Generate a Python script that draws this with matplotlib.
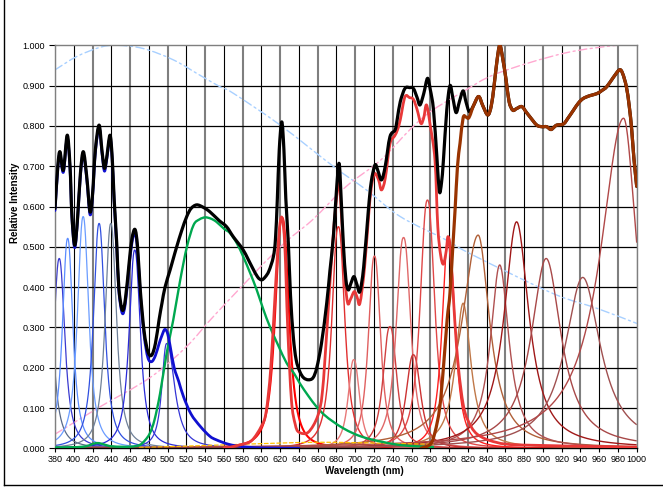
import numpy as np
import matplotlib
matplotlib.use('Agg')
import matplotlib.pyplot as plt
from matplotlib.lines import Line2D
from matplotlib.path import Path
from matplotlib.patches import PathPatch

plt.rcParams['font.family'] = ['Liberation Sans', 'DejaVu Sans']

# ---------------- data ----------------
total_wl = [380, 383, 385.3, 388.9, 393, 396, 398, 401, 404, 407, 410.2, 414, 417.3, 420, 423, 427, 430,
            432.6, 435, 438.6, 441, 443, 445.8, 448, 451.7, 455, 459, 462, 465.3, 468, 471, 475, 479, 483,
            487, 491, 494, 497.3, 502.6, 506, 509.7, 515, 520.4, 525, 531, 538, 545, 555, 562.8, 570, 580.6,
            590, 596, 600.2, 604, 608, 612.7, 615, 617, 619, 621.7, 624, 626, 628.7, 631, 634, 637, 641, 645,
            650, 655, 659, 664, 669.6, 673, 676.7, 680, 682.8, 685, 687.3, 690, 692.6, 695.5, 698.7, 702, 705,
            709, 714, 717, 721, 724, 728, 732, 737, 742.5, 745, 748, 753, 758, 762, 766, 769, 773, 777, 780,
            783.4, 787, 789.7, 792, 794, 797.6, 801, 804, 807.5, 811, 815, 818, 821.7, 826, 831.5, 836, 841.3,
            845, 848, 851, 854, 857, 860.8, 864, 867.9, 872, 877.5, 882, 886, 893.5, 899, 904, 908.5, 912,
            914.8, 922, 927, 932.6, 938, 943, 950, 957.5, 963, 968, 975, 981.6, 985, 989, 992, 994.7, 997, 1000]
total_val = [0.595, 0.70, 0.736, 0.69, 0.777, 0.70, 0.58, 0.504, 0.57, 0.68, 0.736, 0.67, 0.587, 0.63, 0.74,
             0.802, 0.74, 0.695, 0.72, 0.777, 0.72, 0.62, 0.509, 0.40, 0.343, 0.37, 0.46, 0.52, 0.543, 0.50,
             0.39, 0.29, 0.24, 0.231, 0.26, 0.32, 0.36, 0.40, 0.442, 0.47, 0.50, 0.54, 0.575, 0.595, 0.604,
             0.598, 0.587, 0.565, 0.55, 0.525, 0.492, 0.45, 0.425, 0.418, 0.425, 0.44, 0.475, 0.52, 0.62, 0.74,
             0.81, 0.74, 0.62, 0.51, 0.38, 0.277, 0.22, 0.19, 0.175, 0.17, 0.175, 0.20, 0.26, 0.36, 0.44, 0.525,
             0.64, 0.707, 0.62, 0.509, 0.42, 0.393, 0.41, 0.426, 0.405, 0.389, 0.45, 0.591, 0.66, 0.703, 0.69,
             0.666, 0.70, 0.773, 0.79, 0.82, 0.86, 0.893, 0.895, 0.893, 0.87, 0.852, 0.88, 0.918, 0.89, 0.84,
             0.724, 0.637, 0.66, 0.715, 0.84, 0.90, 0.87, 0.833, 0.86, 0.887, 0.86, 0.835, 0.85, 0.873, 0.85,
             0.827, 0.85, 0.90, 0.96, 1.0, 0.97, 0.914, 0.86, 0.839, 0.843, 0.848, 0.835, 0.823, 0.802, 0.798,
             0.798, 0.791, 0.797, 0.802, 0.805, 0.82, 0.839, 0.857, 0.868, 0.875, 0.88, 0.888, 0.897, 0.92,
             0.939, 0.93, 0.897, 0.85, 0.79, 0.72, 0.65]

blue_sum_wl = [380, 383, 385.3, 388.9, 393, 396, 398, 401, 404, 407, 410.2, 414, 417.3, 420, 423, 427, 430,
               432.6, 435, 438.6, 441, 443, 445.8, 448, 451.7, 455, 459, 462, 465.3, 468, 471, 475, 479, 483,
               487, 491, 494, 497, 500, 503, 507, 512, 517, 525, 535, 545, 552, 565, 580, 600, 640]
blue_sum_val = [0.59, 0.695, 0.73, 0.685, 0.77, 0.695, 0.575, 0.498, 0.565, 0.675, 0.73, 0.665, 0.58, 0.625,
                0.735, 0.795, 0.735, 0.688, 0.715, 0.77, 0.715, 0.615, 0.50, 0.392, 0.335, 0.36, 0.45, 0.51,
                0.535, 0.49, 0.38, 0.28, 0.225, 0.215, 0.23, 0.26, 0.28, 0.295, 0.285, 0.25, 0.20, 0.165,
                0.128, 0.085, 0.054, 0.03, 0.021, 0.01, 0.004, 0.001, 0.0]

red_sum_wl = [560, 580, 590, 600, 605, 610, 615, 619, 622, 625, 628, 632, 636, 640, 650, 660, 665, 670, 675,
              680, 683, 686, 689, 692, 695, 699, 702, 705, 710, 715, 718, 721, 725, 728, 732, 737, 742, 745,
              748, 753, 758, 762, 766, 770, 773, 776, 780, 785, 788, 791, 794, 797, 799, 802, 806, 810, 815,
              820, 830, 850, 880, 1000]
red_sum_val = [0.0, 0.01, 0.02, 0.055, 0.09, 0.2, 0.4, 0.54, 0.572, 0.5, 0.3, 0.12, 0.06, 0.04, 0.04, 0.08,
               0.14, 0.3, 0.48, 0.62, 0.657, 0.55, 0.42, 0.36, 0.37, 0.389, 0.375, 0.36, 0.45, 0.6, 0.66,
               0.682, 0.665, 0.641, 0.67, 0.755, 0.775, 0.79, 0.815, 0.872, 0.87, 0.866, 0.84, 0.806, 0.82,
               0.852, 0.80, 0.715, 0.55, 0.48, 0.457, 0.49, 0.525, 0.47, 0.32, 0.2, 0.11, 0.07, 0.035, 0.015,
               0.008, 0.003]

nir_sum_wl = [770, 780, 785, 790, 794, 798, 801, 804, 806.4, 809, 811.7, 815, 818, 820.6, 823, 826, 831.5,
              836, 841.3, 845, 848, 851, 854, 857, 860.8, 864, 867.9, 872, 877.5, 882, 886, 893.5, 899, 904,
              908.5, 912, 914.8, 922, 927, 932.6, 938, 943, 950, 957.5, 963, 968, 975, 981.6, 985, 989, 992,
              994.7, 997, 1000]
nir_sum_val = [0.0, 0.01, 0.04, 0.10, 0.20, 0.32, 0.385, 0.50, 0.591, 0.70, 0.757, 0.82, 0.822, 0.819, 0.83,
               0.85, 0.873, 0.85, 0.827, 0.85, 0.90, 0.96, 1.0, 0.97, 0.914, 0.86, 0.839, 0.843, 0.848, 0.835,
               0.823, 0.802, 0.798, 0.798, 0.791, 0.797, 0.802, 0.805, 0.82, 0.839, 0.857, 0.868, 0.875, 0.88,
               0.888, 0.897, 0.92, 0.939, 0.93, 0.897, 0.85, 0.79, 0.72, 0.65]

green_wl = [380, 410, 425, 440, 460, 470, 476, 481, 486, 492, 499, 506, 513.5, 520.6, 527.7, 534, 540, 546,
            552, 560, 566.5, 574, 580.7, 588, 595, 602, 609, 618, 627, 635, 641, 650, 658.8, 667, 676.5, 687,
            698, 708, 719, 733, 748, 765, 783]
green_val = [0.002, 0.004, 0.013, 0.005, 0.004, 0.008, 0.02, 0.037, 0.07, 0.136, 0.236, 0.318, 0.418, 0.50,
             0.554, 0.568, 0.573, 0.57, 0.562, 0.545, 0.534, 0.508, 0.475, 0.435, 0.393, 0.345, 0.302, 0.255,
             0.211, 0.185, 0.161, 0.13, 0.103, 0.083, 0.066, 0.05, 0.037, 0.028, 0.021, 0.014, 0.008, 0.005,
             0.003]

detector_wl = [380, 403, 428, 446, 474, 506, 535, 556, 570, 620, 677, 712, 748, 797, 815, 858, 915, 958, 1000]
detector_val = [0.939, 0.972, 0.995, 1.0, 0.992, 0.964, 0.925, 0.897, 0.881, 0.802, 0.699, 0.641, 0.575,
                0.517, 0.492, 0.442, 0.38, 0.347, 0.31]

pink_wl = [380, 428, 481, 520, 552, 618, 654, 690, 727, 758, 780, 815, 851, 922, 979, 1000]
pink_val = [0.035, 0.103, 0.175, 0.252, 0.335, 0.495, 0.566, 0.649, 0.715, 0.79, 0.835, 0.885, 0.93, 0.98,
            1.0, 1.0]

yellow_wl = [470, 500, 540, 580, 620, 660, 700, 740, 783]
yellow_val = [0.002, 0.004, 0.007, 0.010, 0.013, 0.015, 0.014, 0.012, 0.010]

# individual emission peaks: centre (nm), height, half widths left/right (nm), profile exponent
peak_center = [372, 384.5, 393.5, 410, 427, 439.5, 465, 499,
               622, 682, 698.5, 720.5, 737, 751.5, 762, 777, 799.5,
               815, 831, 854, 872, 903.5, 942.5, 986]
peak_height = [0.45, 0.471, 0.521, 0.575, 0.558, 0.558, 0.492, 0.26,
               0.572, 0.55, 0.22, 0.477, 0.302, 0.523, 0.232, 0.616, 0.525,
               0.36, 0.529, 0.455, 0.562, 0.471, 0.424, 0.819]
peak_hw_left = [7, 7, 6.5, 7, 7, 7, 7, 6,
                8.5, 8, 7, 7.5, 8.5, 9, 9, 9, 8,
                10, 21, 12, 16, 19.5, 23, 30]
peak_hw_right = [7, 7, 6.5, 7, 7, 7, 7, 10,
                 8.5, 8, 7, 7.5, 8.5, 9, 9, 9, 8,
                 10, 15, 12, 16, 19.5, 23, 18]
peak_exp = [2.3, 2.3, 2.3, 2.3, 2.3, 2.3, 2.3, 2.3,
            2.5, 2.4, 2.4, 2.4, 2.4, 2.4, 2.4, 2.4, 2.4,
            2.0, 2.0, 2.0, 2.0, 2.0, 2.0, 2.0]

x_ticks = list(range(380, 1001, 20))
y_ticks = [round(0.1 * i, 1) for i in range(11)]

# ---------------- styles ----------------
peak_colors = ['#5a6a88', '#3a3ad0', '#5a8cff', '#6a9cff', '#3050e0', '#6f8098', '#2a2ad8', '#3535d5',
               '#ff0000', '#e03030', '#e87878', '#e06060', '#d04040', '#e06868', '#cc3333', '#e04848', '#ff2020',
               '#c07848', '#b06038', '#b05050', '#a01818', '#a84848', '#a05050', '#b04848']
peak_lw = [0.9] * 8 + [1.5] + [1.0] * 8 + [1.0] * 7

W, H = 663, 487
fig = plt.figure(figsize=(W / 100, H / 100), dpi=100)
ax = fig.add_axes([55 / W, 1 - 448.3 / H, (636.7 - 55) / W, (448.3 - 45.3) / H])


def smooth_line(ax, xv, yv, **kw):
    """Draw an Excel-style smoothed line (cubic Bezier segments through the data points)."""
    p = np.column_stack([xv, yv]).astype(float)
    n = len(p)
    verts = [p[0]]
    codes = [Path.MOVETO]
    for i in range(n - 1):
        p0 = p[i - 1] if i > 0 else p[i]
        p1, p2 = p[i], p[i + 1]
        p3 = p[i + 2] if i + 2 < n else p[i + 1]
        c1 = p1 + (p2 - p0) / 6.0
        c2 = p2 - (p3 - p1) / 6.0
        verts += [c1, c2, p2]
        codes += [Path.CURVE4] * 3
    patch = PathPatch(Path(np.array(verts), codes), fill=False, capstyle='round', joinstyle='round', **kw)
    ax.add_patch(patch)
    return patch


# grid lines
for xv in x_ticks:
    if (xv - 400) % 40 == 0:
        ax.axvline(xv, color='black', lw=0.8, zorder=0.5)
    else:
        ax.axvline(xv, color='#7f7f7f', lw=1.5, zorder=0.5)
for yv in y_ticks[1:-1]:
    ax.axhline(yv, color='black', lw=0.9, zorder=0.6)

xs = np.linspace(380, 1000, 2481)
for c, h, wl, wr, p, col, lw in zip(peak_center, peak_height, peak_hw_left, peak_hw_right, peak_exp,
                                     peak_colors, peak_lw):
    d = xs - c
    w = np.where(d < 0, wl, wr)
    ax.plot(xs, h / (1 + np.abs(d / w) ** p), color=col, lw=lw, zorder=2, solid_capstyle='butt')

smooth_line(ax, detector_wl, detector_val, edgecolor='#a8d0ff', lw=1.0,
            linestyle=(0, (6, 2.5, 1.5, 2.5)), zorder=1.5)
smooth_line(ax, pink_wl, pink_val, edgecolor='#ffa8d0', lw=1.0,
            linestyle=(0, (6, 2.5, 1.5, 2.5)), zorder=1.5)
smooth_line(ax, yellow_wl, yellow_val, edgecolor='#ffc000', lw=0.9, linestyle=(0, (3, 2)), zorder=2.5)

smooth_line(ax, green_wl, green_val, edgecolor='#00a84f', lw=1.7, zorder=3)
smooth_line(ax, blue_sum_wl, blue_sum_val, edgecolor='#1010d0', lw=2.0, zorder=3)
smooth_line(ax, red_sum_wl, red_sum_val, edgecolor='#e83838', lw=2.0, zorder=3)
smooth_line(ax, total_wl, total_val, edgecolor='black', lw=2.3, zorder=4)
smooth_line(ax, nir_sum_wl, nir_sum_val, edgecolor='#993300', lw=2.3, zorder=5)

ax.set_xlim(380, 1000)
ax.set_ylim(0, 1)
ax.set_xticks(x_ticks)
ax.set_xticklabels([str(v) for v in x_ticks])
ax.set_yticks(y_ticks)
ax.set_yticklabels(['%.3f' % v for v in y_ticks])
ax.tick_params(axis='both', labelsize=6.5, colors='black', length=3, width=0.8, direction='out')
ax.tick_params(axis='y', length=4, pad=3)
ax.tick_params(axis='x', pad=2)
for s in ax.spines.values():
    s.set_color('#7f7f7f')
    s.set_linewidth(1.0)
ax.spines['bottom'].set_color('black')

fig.text(364 / W, 1 - 471 / H, 'Wavelength (nm)', fontsize=7, fontweight='bold', ha='center', va='center')
fig.text(15 / W, 1 - 203 / H, 'Relative Intensity', fontsize=7, fontweight='bold', ha='center', va='center',
         rotation=90)

# chart-area frame
fig.add_artist(Line2D([4 / W, 4 / W], [1 - 485 / H, 1.0], color='black', lw=1.0))
fig.add_artist(Line2D([4 / W, 1.0], [1 - 485 / H, 1 - 485 / H], color='black', lw=1.0))

fig.savefig('out.png', dpi=100)
